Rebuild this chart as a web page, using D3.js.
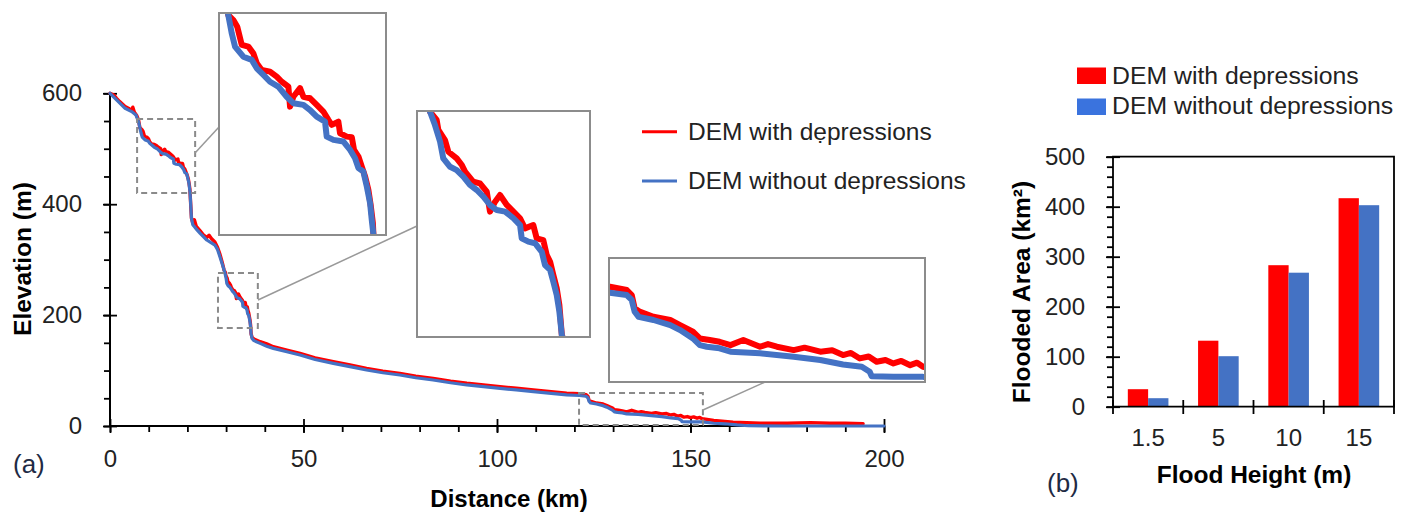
<!DOCTYPE html>
<html><head><meta charset="utf-8">
<script src="https://cdn.jsdelivr.net/npm/d3@7"></script>
<style>body{margin:0;background:#fff}svg{display:block}text{font-family:"Liberation Sans",Arial,Helvetica,sans-serif}</style>
</head><body><svg id="c" width="1407" height="517"></svg>
<script>
// ---------------- DATA ----------------
// (a) longitudinal profile, distance (km) / elevation (m)
const redKm = [0,1.0,1.7,2.5,3.9,5.0,5.6,5.9,6.3,6.9,7.4,7.73,8.18,8.53,8.93,9.52,9.96,10.27,10.71,11.45,12.05,12.5,13.09,13.24,13.53,14.13,14.43,15.03,15.62,16.21,16.66,16.96,17.55,17.7,18.3,18.75,18.95,19.34,19.64,19.94,20.23,20.45,20.63,20.68,20.85,21.05,21.4,21.8,22.3,23.3,24.2,25.0,25.6,26.2,27.1,27.8,28.4,29.0,29.49,29.84,29.93,30.28,30.46,30.9,31.17,31.34,31.78,32.13,32.49,32.66,32.93,33.19,33.55,33.9,34.25,34.51,34.95,35.13,35.48,35.66,35.84,36.01,36.19,36.33,36.46,36.7,37.2,38.8,40.5,42.2,45.7,49.1,53.0,57.7,62.0,66.3,70.5,74.9,79.0,83.5,88.0,92.2,96.5,100.8,105.0,109.4,114.0,118.0,121.3,123.0,123.5,123.8,124.3,125.7,127.4,128.4,129.7,130.4,131.4,132.4,133.5,134.8,136.5,137.3,138.2,139.9,141.0,142.6,143.8,144.9,145.7,146.6,147.5,148.3,149.2,150.0,150.8,151.7,152.4,153.0,156.0,161.0,168.0,175.0,181.0,186.0,190.0,194.6];
const redElev = [600,597,591,585,576,572,570,575,566,560,551,537.7,535.1,531.6,522.0,521.1,517.6,512.3,508.8,507.9,505.3,502.6,500.0,489.5,494.7,499.2,494.7,493.9,490.4,486.9,482.5,479.9,481.6,475.5,473.7,473.4,466.7,463.2,457.9,452.6,445.6,436.9,428.1,422.0,400,375,366,372,360,352,344,340,344,338,332,322,310,295,280.9,276.7,271.6,266.4,260.4,257.0,253.6,250.2,245.0,244.2,239.9,229.7,234.8,238.2,233.1,229.7,226.3,221.1,222.8,216.0,215.1,207.5,204.0,197.2,190.4,181.8,166.4,160,157,152,148,143,137,131,123,116,110,104,99,95,90,86,81,77,74,71,68,65,62,59,58.4,56.5,53.7,46.2,44.3,41.4,39.6,36.7,33.0,29.2,28.3,27.3,25.4,28.3,24.5,26.0,24.5,22.6,24.0,21.7,22.5,19.8,21.0,17.9,19.0,16.0,17.0,15.1,16.5,14.1,15.5,13.2,10,7,5,5,6,5,5,4];
const blueKm = [0,1.7,3.9,5.6,6.7,7.4,7.73,8.03,8.33,9.07,9.82,10.27,10.86,11.45,12.19,12.94,13.53,14.43,15.03,15.62,16.36,16.51,17.11,18.0,18.6,19.04,19.34,19.78,20.09,20.38,20.53,20.68,20.85,21.05,21.4,22.2,23.3,24.2,25.0,26.0,27.1,27.8,28.4,29.0,29.49,29.75,30.02,30.19,30.55,30.9,31.25,31.6,31.96,32.31,32.66,33.02,33.46,33.9,34.25,34.34,34.69,35.04,35.4,35.57,35.84,36.01,36.19,36.33,36.46,36.7,37.2,38.8,40.5,42.2,45.7,49.1,53.0,57.7,62.0,66.3,70.5,74.9,79.0,83.5,88.0,92.2,96.5,100.8,105.0,109.4,114.0,118.0,121.3,123.0,123.5,123.8,124.2,125.7,127.4,128.4,129.7,130.4,131.1,132.4,133.5,136.5,139.9,142.6,144.9,146.8,147.6,147.8,150.0,153.0,156.0,159.0,162.0,165.0,175.0,200.0];
const blueElev = [600,588,573,567,561,548,537.7,528.3,521.1,515.8,514.1,509.7,506.2,502.6,500.0,494.7,491.3,490.4,487.7,484.2,481.6,473.7,472.0,471.1,466.7,462.3,457.1,455.3,447.4,438.6,429.8,422.0,400,375,363,356,347.5,341,335.4,331,326.4,318,305.3,292,280.9,274.1,265.6,257.0,252.7,251.0,247.6,243.4,240.8,237.4,233.1,230.5,229.7,226.3,222.8,216.0,214.3,213.5,209.1,202.3,199.8,193.8,186.9,178.4,166.4,158,154,149,144,140,134,128,120,113,107,101,96,92,87,83,78,74,71,68,65,62,59,56,55.0,53.7,50.9,44.3,41.4,39.6,36.7,33.9,29.2,25.4,24.5,23.6,21.7,20.8,18.8,17.0,14.5,13.2,10.4,7.9,7.5,7.5,5,4,2,0.5,0,0];
const profileNames = ["DEM with dẹpressions", "DEM without depressions"];
const distTicks = [0, 50, 100, 150, 200];
const elevTicks = [0, 200, 400, 600];

// (b) flooded area (km²) by flood height (m)
const floodHeights = ["1.5", "5", "10", "15"];
const areaWith = [35, 132, 283, 417];
const areaWithout = [17, 101, 268, 403];
const barNames = ["DEM with depressions", "DEM without depressions"];
const areaTicks = [0, 100, 200, 300, 400, 500];

// ---------------- DRAW ----------------
const RED = "#ff0000", BLUE = "#4472c4", INK = "#222", FRAME = "#8c8c8c";
const svg = d3.select("#c");
svg.append("rect").attr("width", 1407).attr("height", 517).attr("fill", "#fff");

const red = redKm.map((k, i) => [k, redElev[i]]);
const blue = blueKm.map((k, i) => [k, blueElev[i]]);

const x = d3.scaleLinear().domain([0, 200]).range([110, 884]);
const y = d3.scaleLinear().domain([0, 600]).range([426, 93.3]);

function profile(g, xs, ys, data, color, w) {
  g.append("path").datum(data)
    .attr("d", d3.line().x(d => xs(d[0])).y(d => ys(d[1])))
    .attr("fill", "none").attr("stroke", color).attr("stroke-width", w)
    .attr("stroke-linejoin", "round").attr("stroke-linecap", "round");
}

// axes (a)
const ax = svg.append("g");
ax.append("g").attr("transform", "translate(0,426)")
  .call(d3.axisBottom(x).tickValues(d3.range(0, 201, 10)).tickSize(6).tickFormat(""))
  .call(g => g.select(".domain").remove());
ax.append("g").attr("transform", "translate(110,0)")
  .call(d3.axisLeft(y).tickValues(d3.range(0, 601, 50)).tickSize(6).tickFormat(""))
  .call(g => g.select(".domain").remove());
const gxa = ax.append("g").attr("transform", "translate(0,426)")
  .call(d3.axisBottom(x).tickValues(distTicks).tickSize(7).tickPadding(17).tickFormat(d3.format("d")));
gxa.select(".domain").remove();
gxa.selectAll(".tick line").attr("y1", -7).attr("y2", 7);
const gya = ax.append("g").attr("transform", "translate(110,0)")
  .call(d3.axisLeft(y).tickValues(elevTicks).tickSize(7).tickPadding(21).tickFormat(d3.format("d")));
gya.select(".domain").remove();
gya.selectAll(".tick line").attr("x1", -7).attr("x2", 7);
ax.selectAll(".tick line").attr("stroke", "#000").attr("stroke-width", 1.8);
ax.selectAll(".tick text").attr("font-size", 24).attr("fill", INK)
  .attr("font-family", '"Liberation Sans",Arial,sans-serif');
ax.append("line").attr("x1", 110).attr("x2", 884).attr("y1", 426).attr("y2", 426).attr("stroke", "#000").attr("stroke-width", 2);
ax.append("line").attr("x1", 110).attr("x2", 110).attr("y1", 93.3).attr("y2", 426).attr("stroke", "#000").attr("stroke-width", 2);

// main profiles
const main = svg.append("g");
profile(main, x, y, red, RED, 3.4);
profile(main, x, y, blue, BLUE, 3.2);

// dashed zoom boxes
const zoomBoxes = [
  {km: [7.0, 22.0], elev: [420.2, 553.6]},
  {km: [27.9, 38.2], elev: [176.7, 276]},
  {km: [121.2, 153.2], elev: [1.8, 59.5]}
];
zoomBoxes.forEach(b => {
  svg.append("rect")
    .attr("x", x(b.km[0])).attr("y", y(b.elev[1]))
    .attr("width", x(b.km[1]) - x(b.km[0])).attr("height", y(b.elev[0]) - y(b.elev[1]))
    .attr("fill", "none").attr("stroke", "#8a8a8a").attr("stroke-width", 2).attr("stroke-dasharray", "6,4");
});

// insets (own axis windows)
const insets = [
  {px: [219, 386], py: [13, 235], km: [6.9, 21.8], elev: [421.9, 538.8], from: [195, 153], to: [219, 127]},
  {px: [417, 590], py: [111, 337], km: [28.8, 37.95], elev: [165.4, 281.3], from: [258, 300], to: [417, 226]},
  {px: [609, 925], py: [258, 382], km: [121.2, 153.2], elev: [4.6, 74.6], from: [703, 410], to: [765, 382]}
];
insets.forEach(ins => {
  svg.append("line").attr("x1", ins.from[0]).attr("y1", ins.from[1]).attr("x2", ins.to[0]).attr("y2", ins.to[1])
    .attr("stroke", "#999").attr("stroke-width", 1.5);
});
insets.forEach((ins, i) => {
  const xs = d3.scaleLinear().domain(ins.km).range(ins.px);
  const ys = d3.scaleLinear().domain(ins.elev).range([ins.py[1], ins.py[0]]);
  const id = "clip" + i;
  svg.append("clipPath").attr("id", id).append("rect")
    .attr("x", ins.px[0]).attr("y", ins.py[0]).attr("width", ins.px[1] - ins.px[0]).attr("height", ins.py[1] - ins.py[0]);
  svg.append("rect").attr("x", ins.px[0]).attr("y", ins.py[0]).attr("width", ins.px[1] - ins.px[0]).attr("height", ins.py[1] - ins.py[0]).attr("fill", "#fff");
  const g = svg.append("g").attr("clip-path", `url(#${id})`);
  profile(g, xs, ys, red, RED, 6);
  profile(g, xs, ys, blue, BLUE, 6);
  svg.append("rect").attr("x", ins.px[0]).attr("y", ins.py[0]).attr("width", ins.px[1] - ins.px[0]).attr("height", ins.py[1] - ins.py[0])
    .attr("fill", "none").attr("stroke", FRAME).attr("stroke-width", 2);
});

// legend (a)
const legA = [{c: RED, yl: 131.7, yt: 140}, {c: BLUE, yl: 181, yt: 188.5}];
legA.forEach((l, i) => {
  svg.append("line").attr("x1", 642).attr("x2", 677).attr("y1", l.yl).attr("y2", l.yl).attr("stroke", l.c).attr("stroke-width", 3);
  svg.append("text").attr("x", 688).attr("y", l.yt).attr("font-size", 24.5).attr("fill", INK).text(profileNames[i]);
});

// titles (a)
svg.append("text").attr("x", 509).attr("y", 507).attr("text-anchor", "middle").attr("font-size", 24).attr("font-weight", "bold").attr("fill", "#000").text("Distance (km)");
svg.append("text").attr("transform", "translate(31,259) rotate(-90)").attr("text-anchor", "middle").attr("font-size", 24.5).attr("font-weight", "bold").attr("fill", "#000").text("Elevation (m)");
svg.append("text").attr("x", 13).attr("y", 473).attr("font-size", 26).attr("fill", "#1e2a44").text("(a)");

// ---------------- (b) bars ----------------
const xb = d3.scaleBand().domain(floodHeights).range([1113, 1394]);
const xi = d3.scaleBand().domain([0, 1]).range([0, xb.bandwidth()]).paddingOuter(0.73);
const yb = d3.scaleLinear().domain([0, 500]).range([406.7, 156.7]);
const bars = svg.append("g");
[areaWith, areaWithout].forEach((vals, s) => {
  bars.selectAll(null).data(floodHeights).enter().append("rect")
    .attr("x", d => xb(d) + xi(s)).attr("width", xi.bandwidth())
    .attr("y", (d, i) => yb(vals[i])).attr("height", (d, i) => yb(0) - yb(vals[i]))
    .attr("fill", s === 0 ? RED : BLUE);
});
const bx = svg.append("g");
bx.append("g").attr("transform", "translate(1113,0)")
  .call(d3.axisLeft(yb).tickValues(d3.range(0, 501, 20)).tickSize(6).tickFormat(""))
  .call(g => g.select(".domain").remove());
const gyb = bx.append("g").attr("transform", "translate(1113,0)")
  .call(d3.axisLeft(yb).tickValues(areaTicks).tickSize(7).tickPadding(21).tickFormat(d3.format("d")));
gyb.select(".domain").remove();
gyb.selectAll(".tick line").attr("x1", -7).attr("x2", 7);
const bounds = floodHeights.map(d => xb(d)).concat([xb.range()[1]]);
bx.selectAll(null).data(bounds).enter().append("line")
  .attr("x1", d => d).attr("x2", d => d).attr("y1", 400).attr("y2", 414).attr("stroke", "#000").attr("stroke-width", 1.8);
const gxb = bx.append("g").attr("transform", "translate(0,406.7)")
  .call(d3.axisBottom(xb).tickSize(0).tickPadding(22));
gxb.select(".domain").remove();
bx.selectAll(".tick line").attr("stroke", "#000").attr("stroke-width", 1.8);
bx.selectAll(".tick text").attr("font-size", 24).attr("fill", INK)
  .attr("font-family", '"Liberation Sans",Arial,sans-serif');
bx.append("path").attr("d", "M1113,156.7H1394V406.7H1113Z").attr("fill", "none").attr("stroke", "#000").attr("stroke-width", 1.8);

// legend (b)
const legB = [{c: RED, y: 67.5, yt: 84.3}, {c: "#3a73de", y: 98.5, yt: 113.5}];
legB.forEach((l, i) => {
  svg.append("rect").attr("x", 1077).attr("y", l.y).attr("width", 29).attr("height", 16.5).attr("fill", l.c);
  svg.append("text").attr("x", 1112).attr("y", l.yt).attr("font-size", 24.8).attr("fill", INK).text(barNames[i]);
});

// titles (b)
svg.append("text").attr("x", 1254).attr("y", 483).attr("text-anchor", "middle").attr("font-size", 24.5).attr("font-weight", "bold").attr("fill", "#000").text("Flood Height (m)");
svg.append("text").attr("transform", "translate(1030,292) rotate(-90)").attr("text-anchor", "middle").attr("font-size", 24.5).attr("font-weight", "bold").attr("fill", "#000")
  .text("Flooded Area (km²)");
svg.append("text").attr("x", 1047).attr("y", 492).attr("font-size", 26).attr("fill", "#1e2a44").text("(b)");
</script></body></html>
